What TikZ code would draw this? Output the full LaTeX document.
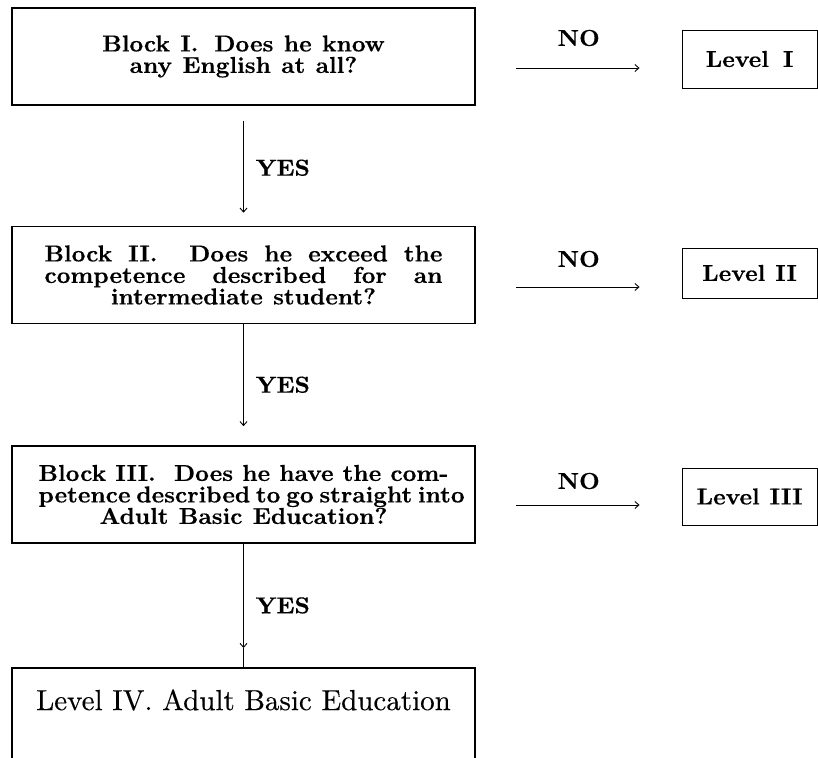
\documentclass[tikz,border=0pt]{standalone}
\usepackage{fontspec}
\usetikzlibrary{arrows.meta,calc}
\newfontfamily\blkfamily{lmroman10-bold.otf}[FakeStretch=1.04,FakeBold=0.4]
\newfontfamily\levfamily{lmroman10-regular.otf}[FakeBold=0.3]
\newcommand\blockfnt{\blkfamily\fontsize{23}{21.5}\selectfont\spaceskip=0.45em plus 0.6em minus 0.2em\relax}
\newcommand\levfnt{\levfamily\fontsize{29}{29}\selectfont}
\begin{document}
\begin{tikzpicture}[x=1pt,y=1pt,
  blockbox/.style={draw, line width=1.6pt, minimum width=463pt, minimum height=97pt, inner sep=0pt, font=\blockfnt, align=center},
  levelbox/.style={draw, line width=0.9pt, minimum width=135pt, inner sep=0pt, font=\blockfnt},
  lbl/.style={font=\blockfnt, inner sep=0pt},
  arr/.style={line width=0.9pt, -{Straight Barb[length=4pt,width=7pt]}},
  plainline/.style={line width=0.9pt}]
\useasboundingbox (0,0) rectangle (818,-757);

% blocks
\node[blockbox] (b1) at (243.5,-56.5) {Block I.\hspace{16pt}Does he know\\any English at all?};
\node[blockbox] (b2) at (243.5,-275) {\makebox[398pt][s]{Block II.\ \ Does he exceed the}\\\makebox[398pt][s]{competence described for an}\\intermediate student?};
\node[blockbox] (b3) at (243.5,-494.5) {\makebox[410pt][s]{Block III.\ \ Does he have the com-}\\\makebox[410pt][s]{petence described to go straight into}\\Adult Basic Education?};
\node[draw, line width=1.6pt, minimum width=463pt, minimum height=110pt, inner sep=0pt, anchor=north] (l4) at (243.5,-667) {};
\node[font=\levfnt, inner sep=0pt] (l4t) at ([yshift=-33pt]l4.north) {Level IV. Adult Basic Education};

% levels
\node[levelbox, minimum height=58pt] (lv1) at (749.5,-59) {Level\hspace{14pt}I};
\node[levelbox, minimum height=50pt] (lv2) at (749.5,-273) {Level\hspace{10pt}II};
\node[levelbox, minimum height=57pt] (lv3) at (749.5,-496.5) {Level\hspace{10pt}III};

% NO arrows
\coordinate (r1) at ([yshift=-11.5pt]b1.east);
\coordinate (r2) at ([yshift=-12pt]b2.east);
\coordinate (r3) at ([yshift=-10.5pt]b3.east);
\draw[arr, shorten <=40pt, shorten >=42pt] (r1) -- (r1 -| lv1.west);
\draw[arr, shorten <=40pt, shorten >=42pt] (r2) -- (r2 -| lv2.west);
\draw[arr, shorten <=40pt, shorten >=42pt] (r3) -- (r3 -| lv3.west);
\node[lbl] (no1) at ($(r1)!.5!(r1 -| lv1.west)+(0,30)$) {NO};
\node[lbl] (no2) at ($(r2)!.5!(r2 -| lv2.west)+(0,28)$) {NO};
\node[lbl] (no3) at ($(r3)!.5!(r3 -| lv3.west)+(0,24)$) {NO};

% YES arrows
\draw[arr] ([yshift=-15pt]b1.south) -- ([yshift=13pt]b2.north);
\draw[arr] (b2.south) -- ([yshift=19pt]b3.north);
\draw[arr] (b3.south) -- ([yshift=19pt]l4.north);
\draw[plainline] ([yshift=19pt]l4.north) -- (l4.north);
\node[lbl, anchor=west] (y1) at ($(b1.south)!.5!(b2.north)+(12,-2)$) {YES};
\node[lbl, anchor=west] (y2) at ($(b2.south)!.5!(b3.north)+(12,0)$) {YES};
\node[lbl, anchor=west] (y3) at ($(b3.south)!.5!(l4.north)+(12,0)$) {YES};
\end{tikzpicture}
\end{document}
